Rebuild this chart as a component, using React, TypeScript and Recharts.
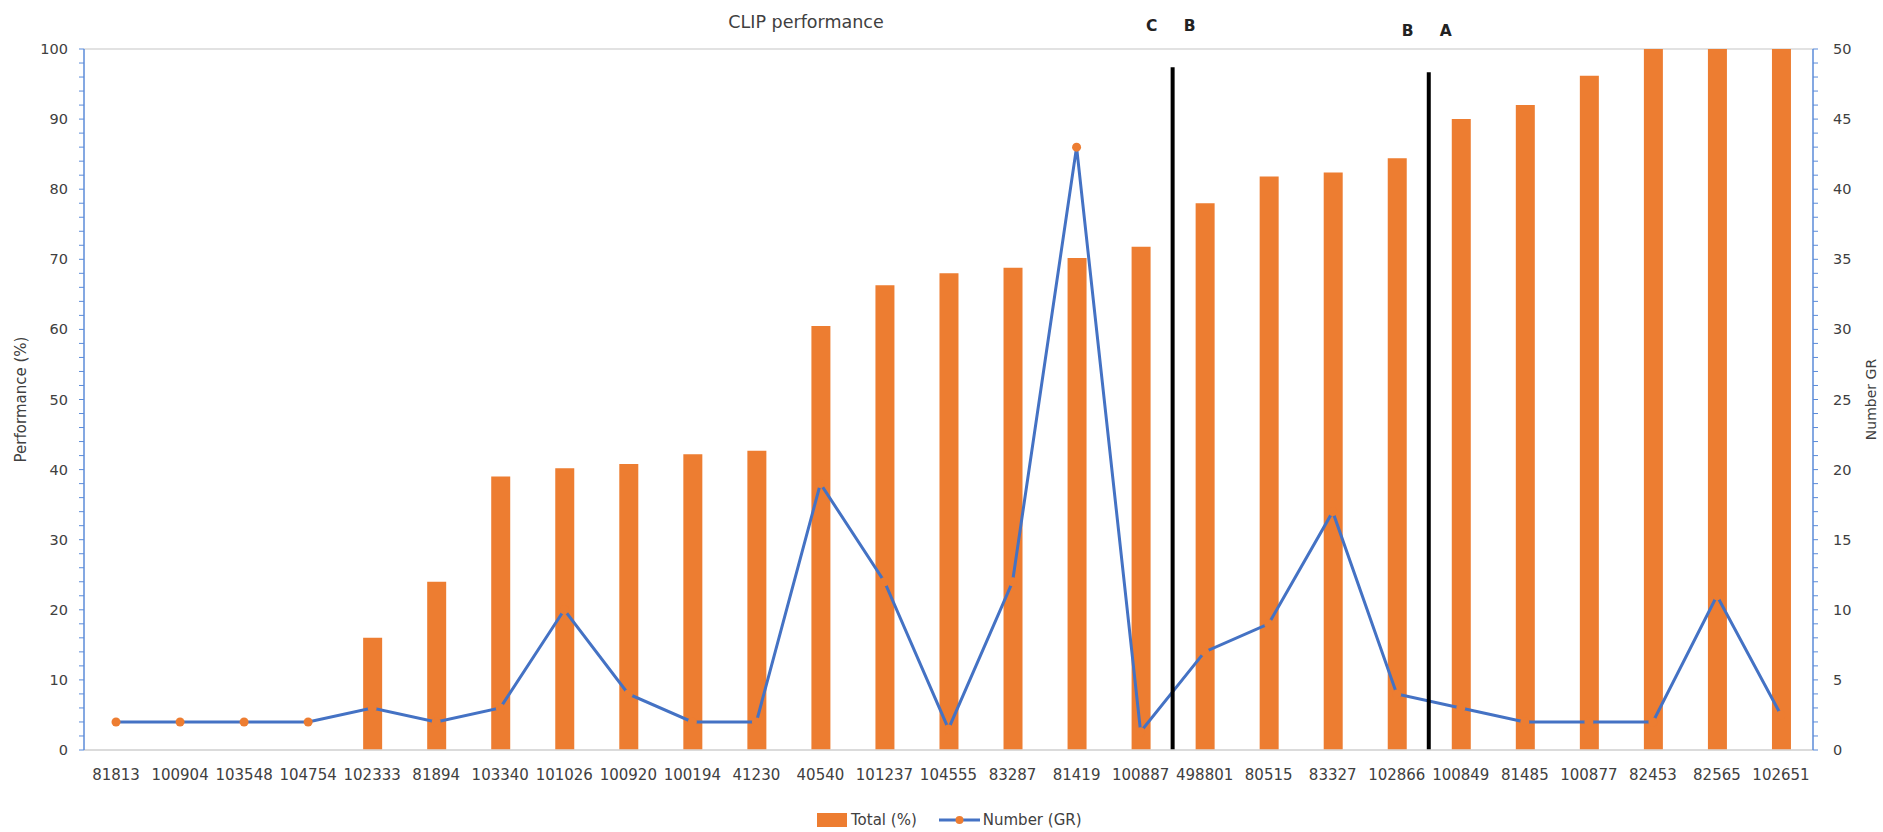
import React from "react";
import {
  ComposedChart,
  Bar,
  Line,
  XAxis,
  YAxis,
  CartesianGrid,
  ReferenceLine,
} from "recharts";

// ---------------------------------------------------------------------------
// Data
// ---------------------------------------------------------------------------

const samples = [
  "81813", "100904", "103548", "104754", "102333", "81894", "103340",
  "101026", "100920", "100194", "41230", "40540", "101237", "104555",
  "83287", "81419", "100887", "498801", "80515", "83327", "102866",
  "100849", "81485", "100877", "82453", "82565", "102651",
];

const totalPct = [
  0, 0, 0, 0, 16, 24, 39, 40.2, 40.8, 42.2, 42.7, 60.5, 66.3, 68, 68.8,
  70.2, 71.8, 78, 81.8, 82.4, 84.4, 90, 92, 96.2, 100, 100, 100,
];

const numberGR = [
  2, 2, 2, 2, 3, 2, 3, 10, 4, 2, 2, 19, 12, 1.5, 12, 43, 1.3, 7, 9, 17, 4,
  3, 2, 2, 2, 11, 2.5,
];

const leftTicks = Array.from({ length: 51 }, (_, i) => i * 2); // 0..100
const rightTicks = Array.from({ length: 51 }, (_, i) => i); // 0..50
const gridTicks = [0, 10, 20, 30, 40, 50, 60, 70, 80, 90, 100];

// group boundaries: [sample the line sits before, top value (%), left label, right label]
const boundaries: [string, number, string, string][] = [
  ["498801", 97.4, "C", "B"],
  ["100849", 96.7, "B", "A"],
];

const data = samples.map((s, i) => ({
  sample: s,
  total: totalPct[i],
  number: numberGR[i],
}));

// ---------------------------------------------------------------------------
// Styles
// ---------------------------------------------------------------------------

const FONT = "'DejaVu Sans', Verdana, sans-serif";
const ORANGE = "#ED7D31";
const BLUE = "#4472C4";
const AXIS_BLUE = "#5B8BD9";
const TEXT = "#404040";

const LeftTick = (props: any) => {
  const { x, y, payload } = props;
  if (payload.value % 10 !== 0) return <g />;
  return (
    <text x={x} y={y} dy={5} textAnchor="end" fontSize={14.5} fill={TEXT} fontFamily={FONT}>
      {payload.value}
    </text>
  );
};

const RightTick = (props: any) => {
  const { x, y, payload } = props;
  if (payload.value % 5 !== 0) return <g />;
  return (
    <text x={x} y={y} dy={5} textAnchor="start" fontSize={14.5} fill={TEXT} fontFamily={FONT}>
      {payload.value}
    </text>
  );
};

const boundaryLabel = (left: string, right: string) => (props: any) => {
  const { viewBox } = props;
  const x = viewBox.x;
  const y = viewBox.y - 36;
  return (
    <g fontFamily={FONT} fontWeight="bold" fontSize={15.5} fill="#222">
      <text x={x - 21} y={y} textAnchor="middle">{left}</text>
      <text x={x + 17} y={y} textAnchor="middle">{right}</text>
    </g>
  );
};

export default function App() {
  return (
    <div
      style={{
        position: "absolute",
        left: 0,
        top: 0,
        width: 1883,
        height: 832,
        background: "#fff",
        fontFamily: FONT,
      }}
    >
      <div
        style={{
          position: "absolute",
          left: 656,
          width: 300,
          top: 12,
          textAlign: "center",
          fontSize: 17.5,
          color: TEXT,
        }}
      >
        CLIP performance
      </div>

      <ComposedChart
        width={1883}
        height={832}
        data={data}
        margin={{ top: 49, right: 0, bottom: 0, left: 0 }}
      >
        <YAxis yAxisId="grid" hide width={0} domain={[0, 100]} ticks={gridTicks} />
        <CartesianGrid yAxisId="grid" vertical={false} stroke="#D9D9D9" strokeWidth={1.5} />
        <XAxis
          dataKey="sample"
          height={82}
          interval={0}
          tickLine={false}
          tickSize={0}
          tickMargin={19}
          axisLine={{ stroke: "#D9D9D9", strokeWidth: 1.5 }}
          tick={{ fontSize: 15, fill: TEXT, fontFamily: FONT }}
        />
        <YAxis
          yAxisId="left"
          orientation="left"
          width={84}
          domain={[0, 100]}
          ticks={leftTicks}
          interval={0}
          tickSize={5}
          tickMargin={11}
          axisLine={{ stroke: AXIS_BLUE, strokeWidth: 1.5 }}
          tickLine={{ stroke: AXIS_BLUE }}
          tick={LeftTick}
          label={{
            value: "Performance (%)",
            angle: -90,
            position: "insideLeft",
            offset: 21,
            style: { fontSize: 15, fill: TEXT, fontFamily: FONT, textAnchor: "middle" },
          }}
        />
        <YAxis
          yAxisId="right"
          orientation="right"
          width={70}
          domain={[0, 50]}
          ticks={rightTicks}
          interval={0}
          tickSize={5}
          tickMargin={15}
          axisLine={{ stroke: AXIS_BLUE, strokeWidth: 1.5 }}
          tickLine={{ stroke: AXIS_BLUE }}
          tick={RightTick}
          label={{
            value: "Number GR",
            angle: -90,
            position: "insideRight",
            offset: 12,
            style: { fontSize: 14, fill: TEXT, fontFamily: FONT, textAnchor: "middle" },
          }}
        />
        <Bar
          yAxisId="left"
          dataKey="total"
          name="Total (%)"
          fill={ORANGE}
          barSize={19}
          isAnimationActive={false}
        />
        <Line
          yAxisId="right"
          dataKey="number"
          name="Number (GR)"
          type="linear"
          stroke={BLUE}
          strokeWidth={3}
          dot={{ r: 4.5, fill: ORANGE, stroke: "none" }}
          activeDot={false}
          isAnimationActive={false}
        />
        {boundaries.map(([s, top, l, r]) => (
          <ReferenceLine
            key={s + l}
            yAxisId="left"
            position="start"
            segment={[
              { x: s, y: 0 },
              { x: s, y: top },
            ]}
            stroke="#000"
            strokeWidth={4}
            label={boundaryLabel(l, r)}
          />
        ))}
      </ComposedChart>

      <div
        style={{
          position: "absolute",
          top: 810,
          left: 817,
          height: 20,
          display: "flex",
          alignItems: "center",
          fontSize: 15,
          color: TEXT,
          whiteSpace: "nowrap",
        }}
      >
        <span style={{ width: 30, height: 14, background: ORANGE, display: "inline-block" }} />
        <span style={{ marginLeft: 4 }}>Total (%)</span>
        <svg width={42} height={14} style={{ marginLeft: 22 }}>
          <line x1={0} y1={7} x2={41} y2={7} stroke={BLUE} strokeWidth={3} />
          <circle cx={20.5} cy={7} r={4} fill={ORANGE} />
        </svg>
        <span style={{ marginLeft: 2 }}>Number (GR)</span>
      </div>
    </div>
  );
}
